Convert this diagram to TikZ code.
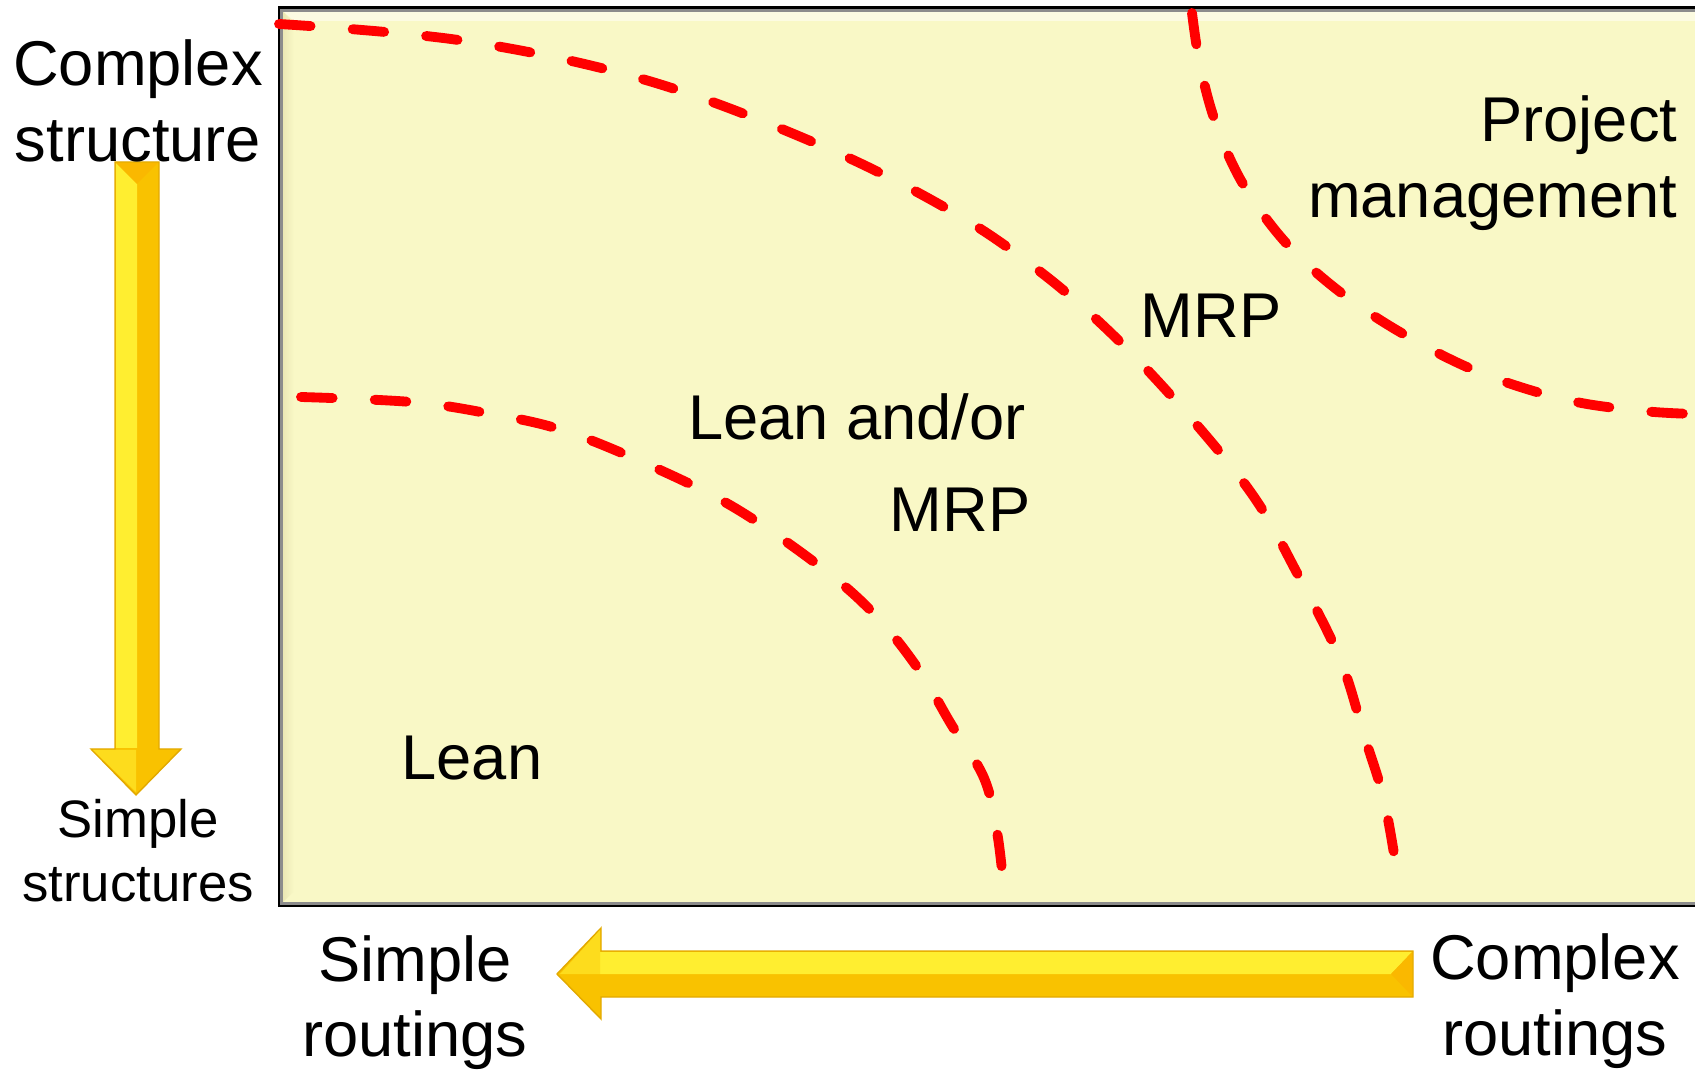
\documentclass[tikz,border=0pt]{standalone}
\usepackage{fontspec}
\setmainfont{Liberation Sans}
\usetikzlibrary{positioning,calc}

\definecolor{paneFill}{HTML}{F9F8C6}
\definecolor{paneEdge}{HTML}{E6E2AE}
\definecolor{arrowLight}{HTML}{FFEE30}
\definecolor{arrowDark}{HTML}{F9C200}
\definecolor{arrowRim}{HTML}{E2A900}
\definecolor{zoneRed}{HTML}{FF0000}

\tikzset{
  zoneline/.style={draw=zoneRed,line width=2.8pt,line cap=round,
    dash pattern=on 9pt off 12pt},
  biglbl/.style={font=\fontsize{18}{21.5}\selectfont,inner sep=0pt,align=center},
  smalllbl/.style={font=\fontsize{15}{18.2}\selectfont,inner sep=0pt,align=center},
}

\begin{document}
\begin{tikzpicture}
  \useasboundingbox (0,0) rectangle (16.95,10.71);

  % the chart area
  \fill[paneFill] (2.79,1.65) rectangle (17.05,10.634);
  \shade[left color=paneEdge,right color=paneFill] (2.79,1.65) -- (2.79,10.634)
    -- (2.94,10.48) -- (2.94,1.80) -- cycle;
  \fill[white!50!paneFill] (2.79,10.634) -- (17.05,10.634) -- (17.05,10.50)
    -- (2.94,10.50) -- cycle;
  \draw[black!45,line width=1.2pt] (2.81,1.67) rectangle (17.10,10.614);
  \draw[black,line width=0.8pt] (2.79,1.65) rectangle (17.05,10.634);

  % zone borders
  \draw[zoneline] plot[smooth,tension=0.6] coordinates {(2.79,10.47) (4.65,10.30)
    (6.49,9.90) (8.22,9.25) (9.51,8.60) (10.38,8.01) (11.13,7.36) (11.89,6.55)
    (12.54,5.74) (12.97,4.98) (13.40,4.12) (13.64,3.36) (13.84,2.71) (13.97,1.98)};
  \draw[zoneline] plot[smooth,tension=0.6] coordinates {(3.01,6.74) (4.11,6.69)
    (4.86,6.58) (5.62,6.41) (6.49,6.06) (7.35,5.63) (8.22,5.03) (8.76,4.55)
    (9.19,4.01) (9.51,3.47) (9.84,2.93) (9.97,2.39) (10.03,1.90)};
  \draw[zoneline] plot[smooth,tension=0.6] coordinates {(11.92,10.58) (12.00,10.06)
    (12.16,9.47) (12.43,8.87) (12.86,8.28) (13.40,7.79) (14.05,7.36) (14.81,6.98)
    (15.67,6.71) (16.43,6.60) (16.95,6.57)};

  % vertical arrow
  \filldraw[fill=arrowDark,draw=arrowRim,line width=0.4pt] (1.15,9.09) -- (1.15,3.22)
    -- (0.91,3.22) -- (1.36,2.76) -- (1.81,3.22) -- (1.59,3.22) -- (1.59,9.09) -- cycle;
  \fill[arrowLight] (1.16,9.08) -- (1.16,3.23) -- (1.37,3.23) -- (1.37,8.87) -- cycle;
  \fill[arrowLight!60!arrowDark] (0.93,3.21) -- (1.36,3.21) -- (1.36,2.79) -- cycle;
  \fill[arrowDark!85!orange] (1.16,9.08) -- (1.58,9.08) -- (1.37,8.87) -- cycle;

  % horizontal arrow
  \filldraw[fill=arrowDark,draw=arrowRim,line width=0.4pt] (14.13,1.20) -- (6.01,1.20)
    -- (6.01,1.43) -- (5.57,0.97) -- (6.01,0.52) -- (6.01,0.74) -- (14.13,0.74) -- cycle;
  \fill[arrowLight] (14.12,1.19) -- (6.00,1.19) -- (6.00,0.97) -- (13.91,0.97) -- cycle;
  \fill[arrowLight!60!arrowDark] (6.00,1.41) -- (6.00,0.97) -- (5.60,0.97) -- cycle;
  \fill[arrowDark!85!orange] (14.12,1.19) -- (14.12,0.75) -- (13.91,0.97) -- cycle;

  % labels
  \node[biglbl] (cplxStruct) at (1.38,9.70) {Complex\\structure};
  \node[smalllbl] (simpStruct) at (1.38,2.20) {Simple\\structures};
  \node[biglbl] (simpRout) at (4.15,0.685) {Simple\\routings};
  \node[biglbl] (cplxRout) at (15.55,0.70) {Complex\\routings};
  \node[biglbl,align=right,anchor=east] (projMgmt) at (16.78,9.08) {Project\\management};
  \node[biglbl] (mrpTop) at (12.11,7.55) {MRP};
  \node[biglbl] (leanOr) at (8.57,6.54) {Lean and/or};
  \node[biglbl] (leanMrp) at (9.60,5.61) {MRP};
  \node[biglbl] (lean) at (4.72,3.13) {Lean};
\end{tikzpicture}
\end{document}
